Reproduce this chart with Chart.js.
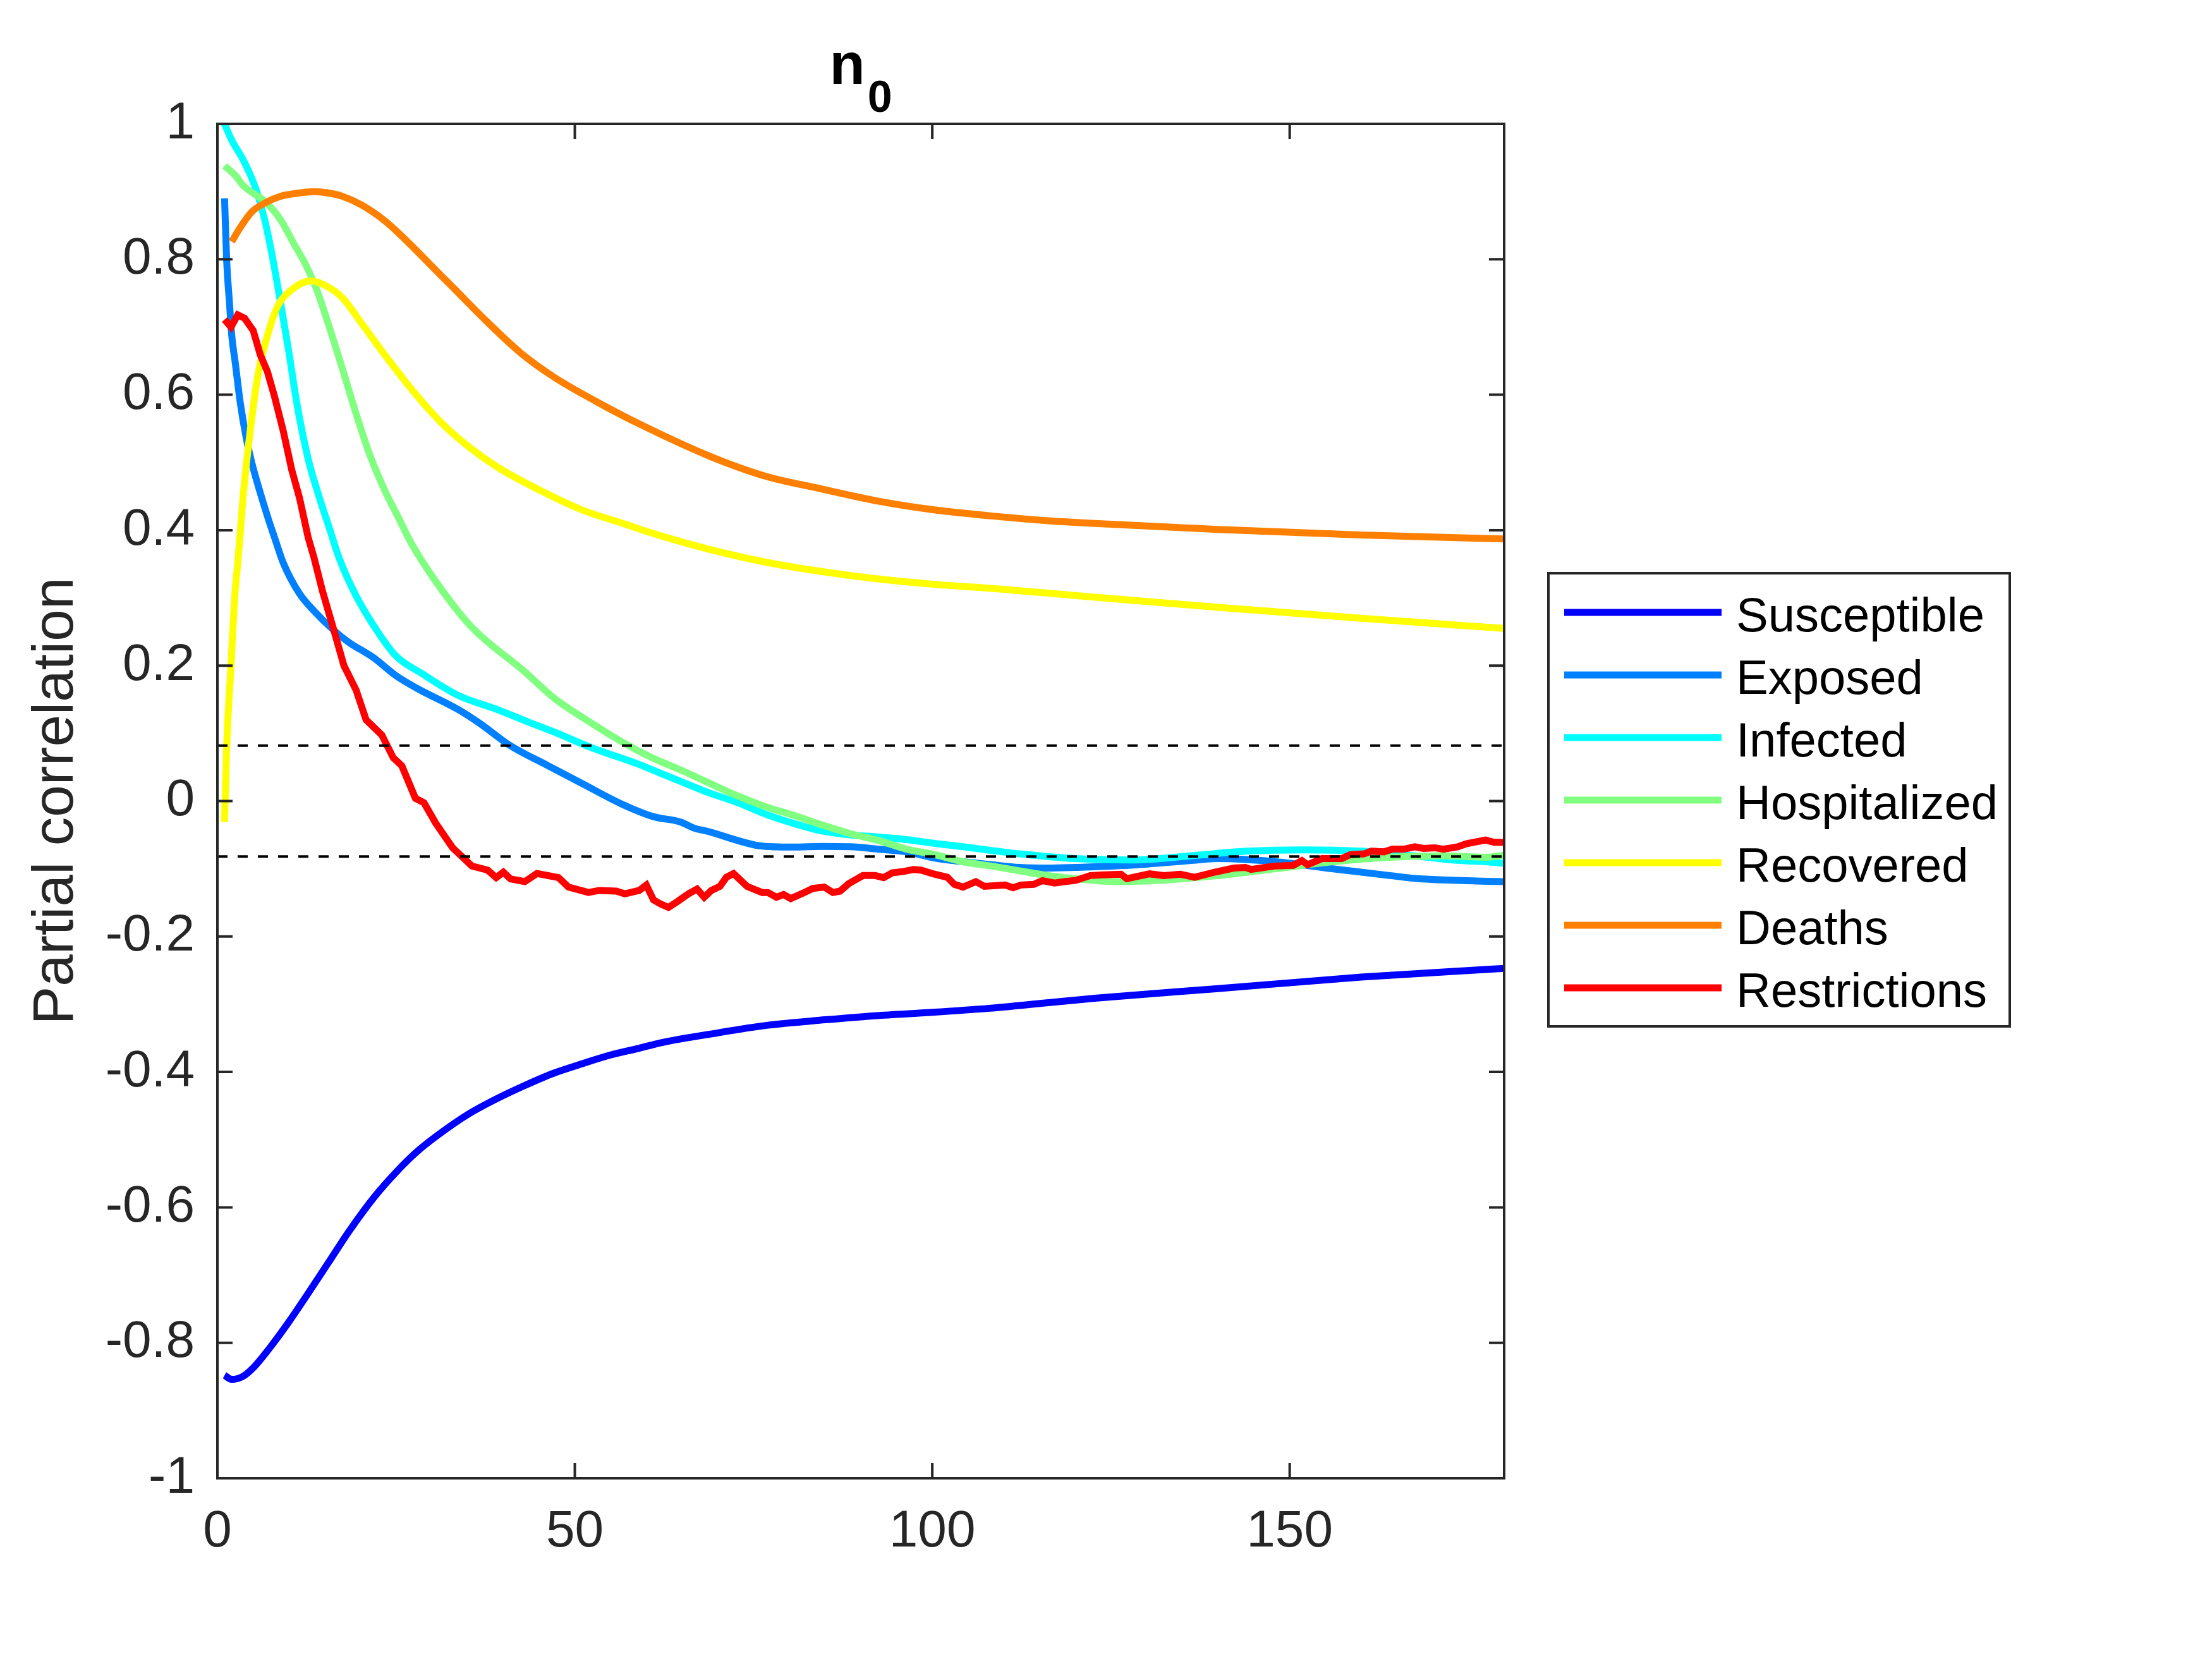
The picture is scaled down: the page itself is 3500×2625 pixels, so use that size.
<!DOCTYPE html>
<html>
<head>
<meta charset="utf-8">
<script src="https://cdn.jsdelivr.net/npm/chart.js@4.4.1/dist/chart.umd.min.js"></script>
<style>
html, body { margin: 0; padding: 0; background: #ffffff; }
canvas { display: block; }
</style>
</head>
<body>
<canvas id="cv" width="3500" height="2625" style="width:3500px;height:2625px"></canvas>
<script>

// series, [day, partial correlation]
const susceptible = [[1,-0.848],[2,-0.854],[3.5,-0.85],[5,-0.837],[7.5,-0.805],[10,-0.769],[12.5,-0.73],[15.5,-0.682],[18.5,-0.634],[22,-0.584],[25,-0.548],[28,-0.517],[31,-0.492],[35,-0.463],[39,-0.44],[43,-0.42],[47,-0.402],[51,-0.388],[55,-0.375],[59,-0.365],[62,-0.357],[69,-0.344],[77,-0.331],[85,-0.323],[92,-0.317],[100,-0.312],[108,-0.306],[116,-0.298],[123,-0.291],[140,-0.277],[160,-0.26],[180,-0.247]];

const exposed = [[1,0.89],[1.3,0.797],[1.7,0.734],[2,0.688],[2.5,0.647],[3.2,0.588],[4,0.538],[4.8,0.5],[6,0.455],[7.2,0.414],[8,0.389],[9.2,0.352],[11.5,0.306],[13.5,0.281],[16.3,0.252],[18.3,0.235],[21.8,0.212],[25,0.185],[28,0.166],[33.7,0.135],[36.8,0.114],[40.8,0.083],[46.3,0.052],[51,0.026],[56.6,-0.0046],[61,-0.023],[64.8,-0.031],[66.7,-0.04],[68.7,-0.045],[72.7,-0.058],[75.8,-0.066],[80.6,-0.068],[84.5,-0.067],[88.5,-0.0675],[92.4,-0.071],[96.4,-0.075],[100.3,-0.084],[104.3,-0.0896],[108.3,-0.094],[112.2,-0.098],[116.2,-0.099],[120,-0.098],[128,-0.0946],[136,-0.088],[140,-0.085],[148,-0.0896],[156,-0.1],[164,-0.11],[168,-0.1146],[176,-0.118],[180,-0.119]];

const infected = [[1,1.0],[2,0.976],[3.6,0.947],[4.8,0.92],[5.6,0.897],[6.6,0.859],[7.6,0.809],[8.8,0.738],[10,0.663],[11.1,0.588],[12.7,0.505],[14.3,0.447],[15.6,0.405],[17.1,0.357],[19.4,0.303],[21.8,0.26],[25,0.214],[28.5,0.189],[33.7,0.156],[39.2,0.135],[43.2,0.118],[47.1,0.102],[52.3,0.079],[59,0.054],[62,0.041],[64.8,0.029],[68.7,0.0125],[72.7,-0.002],[76.6,-0.019],[80.6,-0.033],[84.5,-0.044],[88.5,-0.05],[92.4,-0.053],[96.4,-0.057],[100.3,-0.0625],[104.3,-0.0675],[108.3,-0.073],[112.2,-0.078],[116.2,-0.082],[120,-0.085],[128,-0.087],[136,-0.081],[144,-0.074],[152,-0.072],[160,-0.074],[167.5,-0.081],[173.5,-0.0875],[177.4,-0.0896],[180,-0.092]];

const hospitalized = [[1,0.938],[2.5,0.924],[3.6,0.909],[6.8,0.884],[8.8,0.859],[10.75,0.822],[12.3,0.793],[13.9,0.755],[15.5,0.705],[17.5,0.638],[19.4,0.572],[21.4,0.509],[23.4,0.459],[25.4,0.417],[27,0.383],[30.5,0.325],[35.3,0.26],[43.2,0.189],[47.1,0.152],[51.9,0.118],[57,0.085],[61,0.063],[64.8,0.046],[68.7,0.027],[72.7,0.008],[76.6,-0.008],[80.6,-0.021],[84.5,-0.035],[88.5,-0.048],[92.4,-0.058],[96.4,-0.071],[100.3,-0.079],[104.3,-0.0896],[108.3,-0.096],[112.2,-0.103],[116.2,-0.11],[120,-0.1146],[126,-0.119],[132,-0.117],[140,-0.11],[148,-0.1],[156,-0.0896],[164,-0.083],[171.5,-0.081],[177.4,-0.083],[180,-0.08]];

const recovered = [[1,-0.031],[1.3,0.081],[1.9,0.2],[2.45,0.306],[2.85,0.352],[3.3,0.41],[3.6,0.45],[4.4,0.53],[5.6,0.625],[6.8,0.68],[8.4,0.73],[10.4,0.755],[13.1,0.768],[15.5,0.759],[17.5,0.743],[20.2,0.705],[23.4,0.659],[27.4,0.605],[31.3,0.559],[35.3,0.522],[39.2,0.493],[45.1,0.459],[51,0.43],[57,0.409],[61,0.395],[68.7,0.372],[76.6,0.353],[84.5,0.339],[92.4,0.328],[100.3,0.32],[108.3,0.314],[116.2,0.307],[122.8,0.301],[140,0.286],[160,0.27],[180,0.255]];

const deaths = [[2,0.826],[3.2,0.847],[4.8,0.87],[6.8,0.884],[8.8,0.893],[11.5,0.898],[13.5,0.9],[15.5,0.898],[17.5,0.893],[20.2,0.88],[23.4,0.857],[26.6,0.826],[29.7,0.793],[32.9,0.759],[37.6,0.709],[42.4,0.662],[47.1,0.626],[53,0.59],[59,0.557],[68.7,0.51],[76.6,0.48],[84.5,0.461],[92.4,0.443],[100.3,0.43],[108.3,0.421],[116.2,0.414],[122.8,0.41],[140,0.401],[160,0.393],[180,0.387]];

const restrictions = [[1,0.711],[1.9,0.7],[2.85,0.718],[3.8,0.713],[5,0.695],[6,0.659],[7,0.634],[8,0.597],[9.2,0.547],[10.4,0.489],[11.5,0.447],[12.7,0.389],[13.5,0.36],[14.7,0.31],[16.3,0.252],[17.7,0.2],[19.4,0.164],[20.8,0.12],[23,0.0975],[24.6,0.064],[25.8,0.052],[27.7,0.004],[28.9,-0.0025],[30.5,-0.032],[32.9,-0.069],[35.6,-0.096],[37.8,-0.102],[39,-0.113],[40,-0.105],[41,-0.115],[43,-0.119],[44.7,-0.107],[47.7,-0.113],[49.1,-0.127],[51.9,-0.135],[53.4,-0.132],[55.8,-0.133],[57,-0.137],[59,-0.132],[60,-0.124],[61,-0.146],[62,-0.152],[63.1,-0.157],[64.4,-0.148],[65.9,-0.137],[67.1,-0.13],[68.1,-0.142],[69.1,-0.132],[70.3,-0.126],[71.2,-0.1125],[72.2,-0.107],[74.1,-0.126],[76.2,-0.135],[77,-0.135],[78.2,-0.142],[79.2,-0.138],[80.2,-0.144],[82.1,-0.135],[83.3,-0.129],[84.9,-0.127],[86.1,-0.135],[87.1,-0.133],[88.3,-0.122],[90.3,-0.11],[92,-0.11],[93.2,-0.113],[94.4,-0.106],[96,-0.104],[97.4,-0.101],[98.4,-0.102],[100.3,-0.108],[102.1,-0.1125],[103.1,-0.123],[104.3,-0.127],[106.1,-0.119],[107.3,-0.126],[110.2,-0.124],[111.3,-0.128],[112.4,-0.124],[114.2,-0.123],[115.4,-0.1175],[117.1,-0.121],[118.5,-0.119],[120.1,-0.117],[122.1,-0.11],[124,-0.109],[126.4,-0.108],[127.2,-0.1146],[130.4,-0.1075],[132.4,-0.11],[134.7,-0.108],[136.7,-0.1125],[139.5,-0.105],[142.2,-0.099],[143.8,-0.098],[144.6,-0.101],[147.8,-0.096],[150.5,-0.095],[151.7,-0.088],[152.5,-0.094],[154.5,-0.085],[157.3,-0.085],[158.5,-0.079],[160.4,-0.078],[161.4,-0.074],[163.2,-0.075],[164.4,-0.071],[166,-0.071],[167.5,-0.0675],[168.7,-0.07],[170.3,-0.069],[171.5,-0.071],[173.5,-0.0675],[174.7,-0.063],[177.4,-0.0575],[178.6,-0.061],[180,-0.061]];

const names = ["Susceptible", "Exposed", "Infected", "Hospitalized", "Recovered", "Deaths", "Restrictions"];
const colors = ["#0000ff", "#0080ff", "#00ffff", "#80ff80", "#ffff00", "#ff8000", "#ff0000"];
const series = [susceptible, exposed, infected, hospitalized, recovered, deaths, restrictions];

const threshold = 0.082;
const xTicks = [0, 50, 100, 150];
const xMax = 180;

const FONT = "'Liberation Sans', Arial, Helvetica, sans-serif";
const AXIS = "#262626";
const LINE_W = 11;


function toPoints(pairs) {
    return pairs.map(p => ({ x: p[0], y: p[1] }));
}


const datasets = series.map((s, i) => ({
    label: names[i],
    data: toPoints(s),
    borderColor: colors[i],
    borderWidth: LINE_W,
    pointRadius: 0,
    fill: false,
    // last series sits on top, like the original
    order: series.length - i,
    tension: i === 6 ? 0 : 0.4,
    cubicInterpolationMode: i === 6 ? "default" : "monotone"
}));

[threshold, -threshold].forEach(t => {
    datasets.push({
        label: "",
        data: [{ x: 0, y: t }, { x: xMax, y: t }],
        borderColor: "#000000",
        borderWidth: 4,
        borderDash: [16, 16],
        pointRadius: 0,
        fill: false,
        order: -1
    });
});


// box round the plot and inward ticks on all four sides
const frame = {
    id: "frame",
    afterDatasetsDraw(chart) {
        const ctx = chart.ctx;
        const a = chart.chartArea;
        const xs = chart.scales.x;
        const ys = chart.scales.y;
        const len = 24;
        ctx.save();
        ctx.strokeStyle = AXIS;
        ctx.lineWidth = 4;
        ctx.beginPath();
        xs.ticks.forEach(t => {
            const px = xs.getPixelForValue(t.value);
            ctx.moveTo(px, a.bottom);
            ctx.lineTo(px, a.bottom - len);
            ctx.moveTo(px, a.top);
            ctx.lineTo(px, a.top + len);
        });
        ys.ticks.forEach(t => {
            const py = ys.getPixelForValue(t.value);
            ctx.moveTo(a.left, py);
            ctx.lineTo(a.left + len, py);
            ctx.moveTo(a.right, py);
            ctx.lineTo(a.right - len, py);
        });
        ctx.stroke();
        ctx.strokeRect(a.left, a.top, a.right - a.left, a.bottom - a.top);
        ctx.restore();
    }
};


// title n with subscript 0, and the boxed legend on the right
const annotations = {
    id: "annotations",
    afterDraw(chart) {
        const ctx = chart.ctx;
        const a = chart.chartArea;
        ctx.save();

        ctx.fillStyle = "#000000";
        ctx.textBaseline = "alphabetic";
        ctx.textAlign = "left";
        ctx.font = "bold 92px " + FONT;
        const wn = ctx.measureText("n").width;
        ctx.font = "bold 70px " + FONT;
        const w0 = ctx.measureText("0").width;
        const cx = (a.left + a.right) / 2;
        const x0 = cx - (wn + 4 + w0) / 2;
        ctx.font = "bold 92px " + FONT;
        ctx.fillText("n", x0, 133);
        ctx.font = "bold 70px " + FONT;
        ctx.fillText("0", x0 + wn + 4, 177);

        const box = { left: 2450, top: 907, right: 3180, bottom: 1624 };
        ctx.fillStyle = "#ffffff";
        ctx.fillRect(box.left, box.top, box.right - box.left, box.bottom - box.top);
        ctx.strokeStyle = AXIS;
        ctx.lineWidth = 4;
        ctx.strokeRect(box.left, box.top, box.right - box.left, box.bottom - box.top);

        ctx.font = "76px " + FONT;
        ctx.fillStyle = "#000000";
        names.forEach((n, i) => {
            const y = 969 + i * 99;
            ctx.strokeStyle = colors[i];
            ctx.lineWidth = LINE_W;
            ctx.beginPath();
            ctx.moveTo(2475, y);
            ctx.lineTo(2724, y);
            ctx.stroke();
            ctx.fillText(n, 2747, y + 30);
        });

        ctx.restore();
    }
};


const canvas = document.getElementById("cv");

new Chart(canvas, {
    type: "line",
    data: { datasets: datasets },
    options: {
        responsive: false,
        animation: false,
        devicePixelRatio: 1,
        layout: { padding: { left: 0, top: 196, right: 1120, bottom: 0 } },
        plugins: {
            legend: { display: false },
            tooltip: { enabled: false },
            title: { display: false }
        },
        scales: {
            x: {
                type: "linear",
                min: 0,
                max: xMax,
                grid: { display: false, drawTicks: false },
                border: { display: false },
                ticks: {
                    stepSize: 50,
                    padding: 36,
                    maxRotation: 0,
                    color: AXIS,
                    font: { family: FONT, size: 82 }
                },
                afterBuildTicks: s => {
                    s.ticks = xTicks.map(v => ({ value: v }));
                },
                afterFit: s => { s.height = 286; }
            },
            y: {
                type: "linear",
                min: -1,
                max: 1,
                grid: { display: false, drawTicks: false },
                border: { display: false },
                ticks: {
                    stepSize: 0.2,
                    padding: 36,
                    color: AXIS,
                    font: { family: FONT, size: 82 },
                    callback: v => String(Number(v.toFixed(1)))
                },
                title: {
                    display: true,
                    text: "Partial correlation",
                    color: AXIS,
                    font: { family: FONT, size: 91 },
                    padding: { top: 35, bottom: 0 }
                },
                afterFit: s => { s.width = 344; }
            }
        }
    },
    plugins: [frame, annotations]
});
</script>
</body>
</html>
